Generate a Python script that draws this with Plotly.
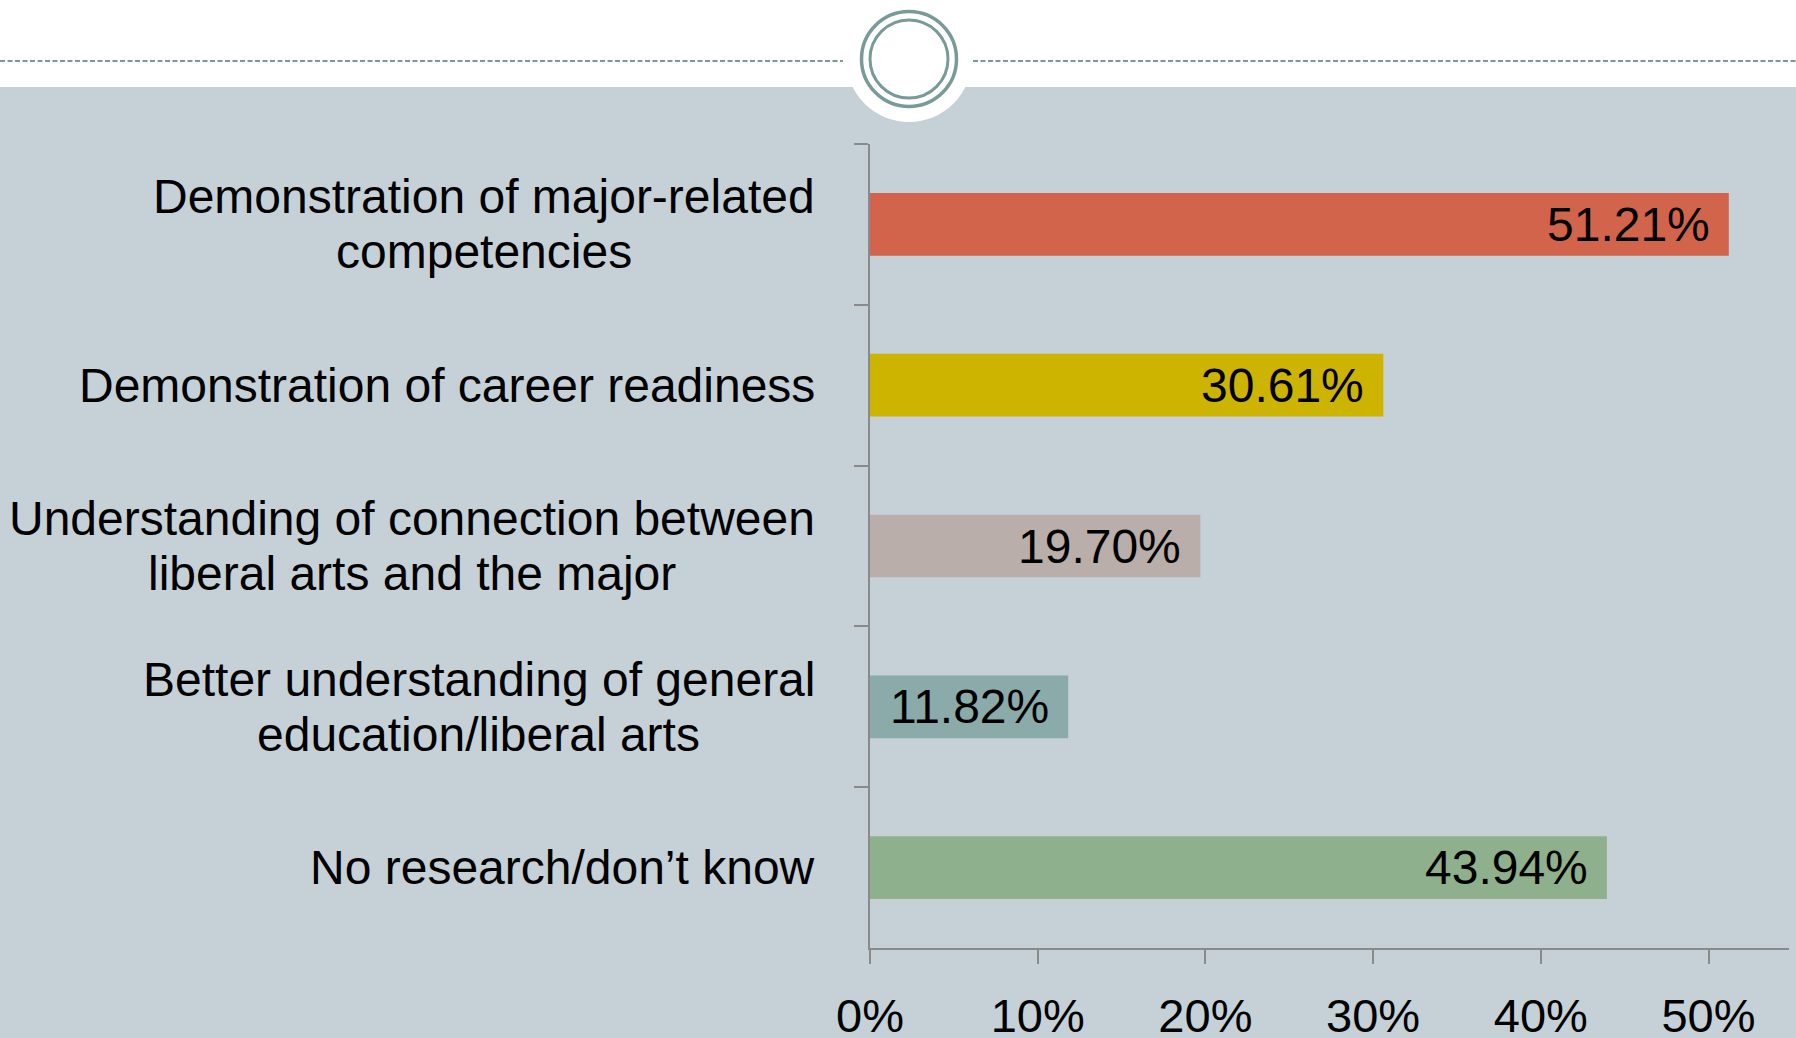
import plotly.graph_objects as go

categories = [
    "Demonstration of major-related<br>competencies",
    "Demonstration of career readiness",
    "Understanding of connection between<br>liberal arts and the major",
    "Better understanding of general<br>education/liberal arts",
    "No research/don\u2019t know",
]
values = [51.21, 30.61, 19.70, 11.82, 43.94]
value_labels = ["51.21%", "30.61%", "19.70%", "11.82%", "43.94%"]
bar_colors = ["#D1644B", "#CCB400", "#B9AEA9", "#8AABAA", "#8FB08C"]
tick_vals = [0, 10, 20, 30, 40, 50]
tick_text = ["0%", "10%", "20%", "30%", "40%", "50%"]

W, H = 1796, 1038
L, R, T, B = 870, 7, 144, 90
PW, PH = W - L - R, H - T - B
BG = "#C5D1D7"
RING = "#789B99"
AXIS = "#8A8A8A"
FONT = "Arial, Liberation Sans, sans-serif"
FS = 48
LINE_H = 55


def px(x):
    return (x - L) / PW


def py(y):
    return (H - B - y) / PH


def text_w(s):
    # approximate Arial advance widths, used only to centre multi-line label blocks
    w = {'i': .222, 'l': .222, 'j': .222, 't': .278, 'f': .278, 'r': .333, ' ': .278, '/': .278,
         '-': .333, '\u2019': .222, 's': .5, 'c': .5, 'k': .5, 'v': .5, 'y': .5, 'm': .833,
         'w': .722, 'D': .722, 'U': .722, 'B': .667, 'N': .722}
    return sum(w.get(ch, .556) for ch in s) * FS


fig = go.Figure()
fig.add_trace(go.Bar(
    x=values, y=categories, orientation="h",
    marker=dict(color=bar_colors, line=dict(width=0)),
    width=0.39, hoverinfo="skip",
))

annotations = []
for c, v, t in zip(categories, values, value_labels):
    annotations.append(dict(x=v, y=c, xref="x", yref="y", text=t, showarrow=False,
                            xanchor="right", xshift=-17, yanchor="middle",
                            font=dict(family=FONT, size=FS, color="black")))
    lines = c.split("<br>")
    n = len(lines)
    block = max(text_w(s) for s in lines)
    for i, ln in enumerate(lines):
        annotations.append(dict(x=0, y=c, xref="paper", yref="y", text=ln, showarrow=False,
                                xanchor="center", xshift=-55 - block / 2, yanchor="middle",
                                yshift=((n - 1) / 2 - i) * LINE_H,
                                font=dict(family=FONT, size=FS, color="black")))

shapes = [
    dict(type="rect", xref="paper", yref="paper", x0=px(-5), x1=px(W + 5), y0=py(87), y1=py(-5),
         fillcolor="white", line=dict(width=0), layer="below"),
    dict(type="line", xref="paper", yref="paper", x0=px(0), x1=px(843), y0=py(61), y1=py(61),
         line=dict(color=RING, width=2, dash="5px,2.5px")),
    dict(type="line", xref="paper", yref="paper", x0=px(973), x1=px(W), y0=py(61), y1=py(61),
         line=dict(color=RING, width=2, dash="5px,2.5px")),
    dict(type="circle", xref="paper", yref="paper", x0=px(909 - 63), x1=px(909 + 63),
         y0=py(59 + 63), y1=py(59 - 63), fillcolor="white", line=dict(width=0)),
    dict(type="circle", xref="paper", yref="paper", x0=px(909 - 47.5), x1=px(909 + 47.5),
         y0=py(59 + 47.5), y1=py(59 - 47.5), line=dict(color=RING, width=3.5)),
    dict(type="circle", xref="paper", yref="paper", x0=px(909 - 39), x1=px(909 + 39),
         y0=py(59 + 39), y1=py(59 - 39), line=dict(color=RING, width=3)),
]

fig.update_layout(
    width=W, height=H,
    margin=dict(l=L, r=R, t=T, b=B, pad=0, autoexpand=False),
    paper_bgcolor=BG, plot_bgcolor=BG,
    showlegend=False,
    annotations=annotations,
    shapes=shapes,
    xaxis=dict(range=[0, 54.8], tickvals=tick_vals, ticktext=tick_text, automargin=False,
               showgrid=False, zeroline=False, showline=True, linecolor=AXIS, linewidth=1.5,
               ticks="outside", ticklen=14, tickcolor=AXIS, tickwidth=1.5,
               ticklabelstandoff=12,
               tickfont=dict(family=FONT, size=47, color="black")),
    yaxis=dict(categoryorder="array", categoryarray=categories, autorange="reversed",
               automargin=False,
               showticklabels=False, showgrid=False, zeroline=False,
               showline=True, linecolor=AXIS, linewidth=1.5,
               ticks="outside", tickson="boundaries", ticklen=14, tickcolor=AXIS, tickwidth=1.5),
)

fig.write_html("out.html", config={"displayModeBar": False},
               post_script="document.body.style.margin='0';document.body.style.overflow='hidden';")
